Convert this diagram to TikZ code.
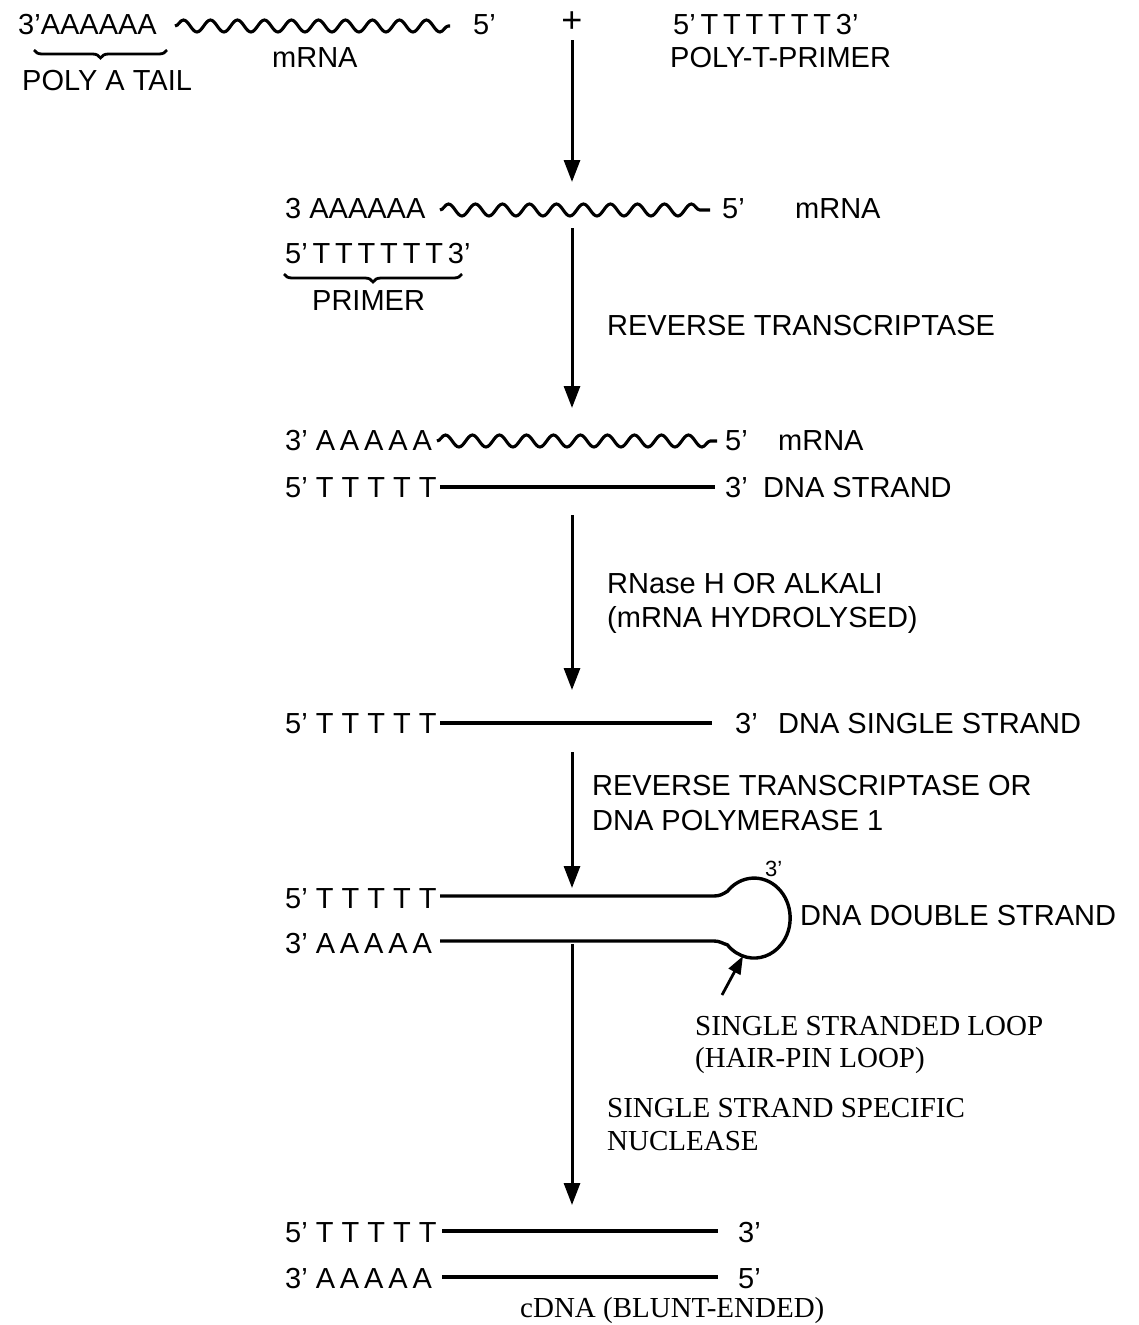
\documentclass[tikz,border=0pt]{standalone}
\usepackage{fontspec}
\newfontfamily\sansM{Liberation Sans}[Ligatures=TeX]
\newfontfamily\serifB{Liberation Serif}[Ligatures=TeX]
\usetikzlibrary{arrows.meta,decorations.pathmorphing,decorations.pathreplacing}
\begin{document}
\begin{tikzpicture}[x=1pt,y=1pt,
  lbl/.style={inner sep=0pt, anchor=base west, font=\sansM\fontsize{29}{34}\selectfont},
  slbl/.style={inner sep=0pt, anchor=base west, font=\serifB\fontsize{29}{34}\selectfont},
  strand/.style={line width=3.4pt},
  rna/.style={line width=3.1pt, decorate, decoration={snake, segment length=27pt, amplitude=6pt}},
  flow/.style={line width=3pt, -{Triangle[length=22pt,width=16pt]}},
  ubrace/.style={line width=2.8pt, decorate, decoration={brace, amplitude=8pt}}
]
\useasboundingbox (0,0) rectangle (1138,-1325);

% ---------- row 1 ----------
\node[lbl] (r1a) at (18,-34) {3'AAAAAA};
\coordinate (b1s) at (167,-50); \coordinate (b1e) at (34,-50);
\draw[ubrace] (b1s) -- (b1e);
\node[lbl] (r1tail) at (22,-90) {POLY A TAIL};
\coordinate (w1s) at (175,-26); \coordinate (w1e) at (450,-26);
\draw[rna] (w1s) -- (w1e);
\node[lbl] (r1m) at (272,-67) {mRNA};
\node[lbl] (r1five) at (473,-34) {5'};
\node[lbl, anchor=center, font=\sansM\fontsize{36}{40}\selectfont] (plus) at (572,-22) {+};
\node[lbl] (r1p) at (673,-34) {5'\,T\,T\,T\,T\,T\,T\,3'};
\node[lbl] (r1pl) at (670,-67) {POLY-T-PRIMER};
\coordinate (a1s) at (572,-40); \coordinate (a1e) at (572,-182);
\draw[flow] (a1s) -- (a1e);

% ---------- row 2 ----------
\node[lbl] (r2a) at (285,-218) {3 AAAAAA};
\coordinate (w2s) at (440,-210); \coordinate (w2e) at (710,-210);
\draw[rna] (w2s) -- (w2e);
\node[lbl] (r2five) at (722,-218) {5'};
\node[lbl] (r2m) at (795,-218) {mRNA};
\node[lbl] (r2p) at (285,-263) {5'\,T\,T\,T\,T\,T\,T\,3'};
\coordinate (b2s) at (462,-274); \coordinate (b2e) at (284,-274);
\draw[ubrace] (b2s) -- (b2e);
\node[lbl] (r2pl) at (312,-310) {PRIMER};
\coordinate (a2s) at (572,-228); \coordinate (a2e) at (572,-408);
\draw[flow] (a2s) -- (a2e);
\node[lbl] (s1) at (607,-335) {REVERSE TRANSCRIPTASE};

% ---------- row 3 ----------
\node[lbl] (r3a) at (285,-450) {3'\ A\,A\,A\,A\,A};
\coordinate (w3s) at (437,-441); \coordinate (w3e) at (717,-441);
\draw[rna] (w3s) -- (w3e);
\node[lbl] (r3five) at (725,-450) {5'};
\node[lbl] (r3m) at (778,-450) {mRNA};
\node[lbl] (r3t) at (285,-497) {5' T T T T T};
\coordinate (l3s) at (440,-487); \coordinate (l3e) at (715,-487);
\draw[strand] (l3s) -- (l3e);
\node[lbl] (r3three) at (725,-497) {3'};
\node[lbl] (r3d) at (763,-497) {DNA STRAND};
\coordinate (a3s) at (572,-515); \coordinate (a3e) at (572,-690);
\draw[flow] (a3s) -- (a3e);
\node[lbl] (s2a) at (607,-593) {RNase H OR ALKALI};
\node[lbl] (s2b) at (607,-627) {(mRNA HYDROLYSED)};

% ---------- row 4 ----------
\node[lbl] (r4t) at (285,-733) {5' T T T T T};
\coordinate (l4s) at (440,-723); \coordinate (l4e) at (712,-723);
\draw[strand] (l4s) -- (l4e);
\node[lbl] (r4three) at (735,-733) {3'};
\node[lbl] (r4d) at (778,-733) {DNA SINGLE STRAND};
\coordinate (a4s) at (572,-752); \coordinate (a4e) at (572,-888);
\draw[flow] (a4s) -- (a4e);
\node[lbl] (s3a) at (592,-795) {REVERSE TRANSCRIPTASE OR};
\node[lbl] (s3b) at (592,-830) {DNA POLYMERASE 1};

% ---------- row 5 ----------
\node[lbl] (r5t) at (285,-908) {5' T T T T T};
\node[lbl] (r5a) at (285,-953) {3'\ A\,A\,A\,A\,A};
\coordinate (l5s) at (440,-896); \coordinate (l5e) at (440,-941);
\draw[strand] (l5s) -- (714,-896) .. controls (720,-896) and (723,-894) .. (727.4,-891.3)
   arc[start angle=138, end angle=-138, x radius=36, y radius=40]
   .. controls (723,-943.7) and (720,-941) .. (714,-941) -- (l5e);
\node[lbl, font=\sansM\fontsize{22}{26}\selectfont] (r5three) at (765,-876) {3'};
\node[lbl] (r5d) at (800,-925) {DNA DOUBLE STRAND};
\coordinate (hps) at (722,-995); \coordinate (hpe) at (743,-956);
\draw[line width=2.8pt, -{Triangle[length=18pt,width=13pt]}] (hps) -- (hpe);
\node[slbl] (lp1) at (695,-1035) {SINGLE STRANDED LOOP};
\node[slbl] (lp2) at (695,-1067) {(HAIR-PIN LOOP)};
\coordinate (a5s) at (572,-944); \coordinate (a5e) at (572,-1205);
\draw[flow] (a5s) -- (a5e);
\node[slbl] (s4a) at (607,-1117) {SINGLE STRAND SPECIFIC};
\node[slbl] (s4b) at (607,-1150) {NUCLEASE};

% ---------- row 6 ----------
\node[lbl] (r6t) at (285,-1242) {5' T T T T T};
\coordinate (l6s) at (442,-1231); \coordinate (l6e) at (718,-1231);
\draw[strand] (l6s) -- (l6e);
\node[lbl] (r6three) at (738,-1242) {3'};
\node[lbl] (r6a) at (285,-1288) {3'\ A\,A\,A\,A\,A};
\coordinate (l7s) at (442,-1277); \coordinate (l7e) at (718,-1277);
\draw[strand] (l7s) -- (l7e);
\node[lbl] (r6five) at (738,-1288) {5'};
\node[slbl] (cdna) at (520,-1317) {cDNA (BLUNT-ENDED)};
\end{tikzpicture}
\end{document}
